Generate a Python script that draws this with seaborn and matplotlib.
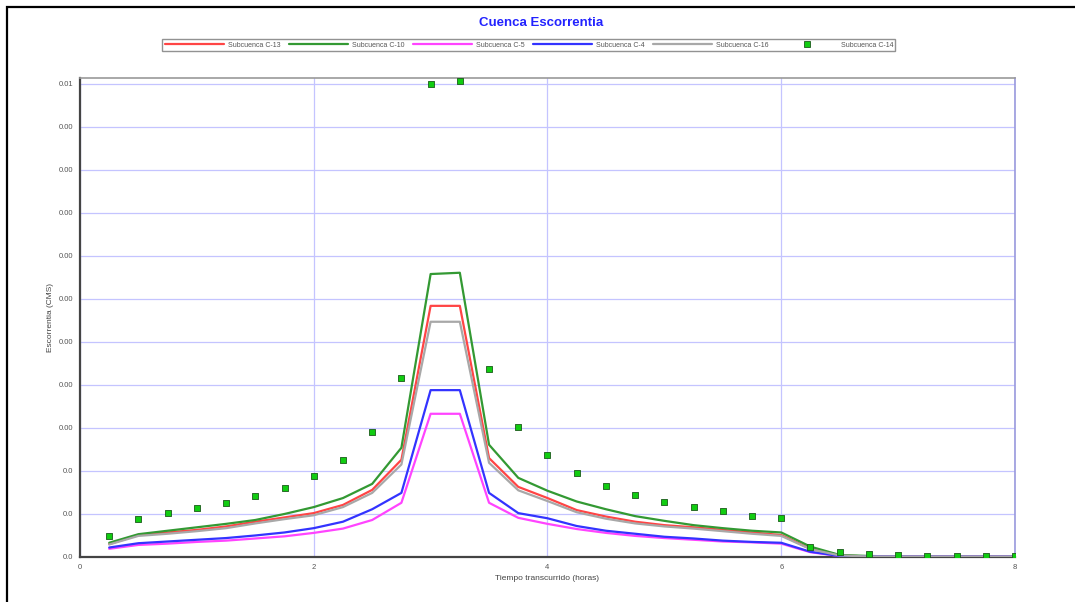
import numpy as np
import pandas as pd
import seaborn as sns
import matplotlib.pyplot as plt
from matplotlib.patches import Rectangle
from matplotlib.lines import Line2D

# tiempo (horas)
horas = [0.25, 0.5, 0.75, 1.0, 1.25, 1.5, 1.75, 2.0, 2.25, 2.5, 2.75, 3.0, 3.25, 3.5, 3.75, 4.0,
         4.25, 4.5, 4.75, 5.0, 5.25, 5.5, 5.75, 6.0, 6.25, 6.5, 6.75, 7.0, 7.25, 7.5, 7.75, 8.0]

c13 = [0.00030, 0.00051, 0.00057, 0.00063, 0.00071, 0.00082, 0.00092, 0.00102, 0.00121, 0.00156,
       0.00226, 0.00584, 0.00584, 0.00230, 0.00163, 0.00137, 0.00109, 0.00094, 0.00082, 0.00074,
       0.00069, 0.00063, 0.00057, 0.00051, 0.00019, 0.000035, 0.000012, 0.000012, 0.000012,
       0.000012, 0.000012, 0.000012]
c10 = [0.00033, 0.00053, 0.00061, 0.00069, 0.00077, 0.00086, 0.00100, 0.00116, 0.00137, 0.00170,
       0.00254, 0.00658, 0.00661, 0.00261, 0.00184, 0.00154, 0.00129, 0.00111, 0.00095, 0.00084,
       0.00074, 0.00067, 0.00061, 0.00057, 0.00024, 0.000047, 0.000023, 0.000012, 0.000012,
       0.000012, 0.000012, 0.000012]
c5 = [0.00019, 0.00028, 0.00031, 0.00035, 0.00038, 0.00043, 0.00048, 0.00056, 0.00066, 0.00086,
      0.00126, 0.00333, 0.00333, 0.00126, 0.00091, 0.00077, 0.00065, 0.00056, 0.00049, 0.00044,
      0.00040, 0.00036, 0.00034, 0.00031, 0.00011, 0.000023, 0.000012, 0.000012, 0.000012,
      0.000012, 0.000012, 0.000012]
c4 = [0.00022, 0.00032, 0.00036, 0.00040, 0.00044, 0.00050, 0.00057, 0.00067, 0.00082, 0.00111,
      0.00149, 0.00388, 0.00388, 0.00149, 0.00102, 0.00090, 0.00072, 0.00061, 0.00054, 0.00047,
      0.00043, 0.00038, 0.00035, 0.00033, 0.00012, 0.000023, 0.000012, 0.000012, 0.000012,
      0.000012, 0.000012, 0.000012]
c16 = [0.00029, 0.00049, 0.00054, 0.00060, 0.00067, 0.00078, 0.00088, 0.00097, 0.00116, 0.00149,
       0.00215, 0.00547, 0.00547, 0.00219, 0.00155, 0.00130, 0.00104, 0.00089, 0.00078, 0.00071,
       0.00066, 0.00060, 0.00054, 0.00049, 0.00018, 0.000035, 0.000012, 0.000012, 0.000012,
       0.000012, 0.000012, 0.000012]
c14 = [0.00049, 0.00088, 0.00102, 0.00113, 0.00126, 0.00141, 0.00161, 0.00188, 0.00226, 0.00290,
       0.00416, 0.01099, 0.01107, 0.00437, 0.00303, 0.00236, 0.00195, 0.00166, 0.00145, 0.00129,
       0.00116, 0.00107, 0.00096, 0.00091, 0.00024, 0.00012, 0.00007, 0.000047, 0.000023,
       0.000023, 0.000023, 0.000023]

y_ticks = [0.0, 0.001, 0.002, 0.003, 0.004, 0.005, 0.006, 0.007, 0.008, 0.009, 0.010, 0.011]
y_labels = ['0.0', '0.0', '0.0', '0.00', '0.00', '0.00', '0.00', '0.00', '0.00', '0.00', '0.00', '0.01']
x_ticks = [0, 2, 4, 6, 8]

lineas = ['Subcuenca C-13', 'Subcuenca C-10', 'Subcuenca C-5', 'Subcuenca C-4', 'Subcuenca C-16']
colores = {'Subcuenca C-13': '#ff4545', 'Subcuenca C-10': '#339933', 'Subcuenca C-5': '#ff44ff',
           'Subcuenca C-4': '#3333ff', 'Subcuenca C-16': '#a8a8a8'}

df = pd.DataFrame({'horas': horas * 5,
                   'cms': c13 + c10 + c5 + c4 + c16,
                   'serie': [s for s in lineas for _ in horas]})
df14 = pd.DataFrame({'horas': horas, 'cms': c14, 'serie': 'Subcuenca C-14'})

sns.set_style('white')
plt.rcParams['font.family'] = ['Liberation Sans', 'DejaVu Sans']

fig = plt.figure(figsize=(10.75, 6.02), dpi=100)
ax = fig.add_axes([0.0744, 0.0748, 0.8698, 0.7957])

sns.lineplot(data=df, x='horas', y='cms', hue='serie', hue_order=lineas, palette=colores,
             linewidth=1.6, ax=ax, legend=False, zorder=3)
sns.scatterplot(data=df14, x='horas', y='cms', color='#11cc11', marker='s', s=16,
                edgecolor='#1a5a1a', linewidth=0.6, ax=ax, legend=False, zorder=4)

ax.set_xlim(0, 8)
ax.set_ylim(0, 0.01114)
ax.set_xticks(x_ticks)
ax.set_xticklabels([str(x) for x in x_ticks])
ax.set_yticks(y_ticks)
ax.set_yticklabels(y_labels)
ax.grid(True, color='#c4c4ff', linewidth=0.9)
ax.tick_params(axis='both', labelsize=5.5, labelcolor='#555555', length=3, width=0.7,
               color='#b0b0e0', pad=2, direction='out')
ax.tick_params(axis='y', color='#888888')

for side in ['left', 'bottom']:
    ax.spines[side].set_color('#444444')
    ax.spines[side].set_linewidth(1.6)
ax.spines['top'].set_color('#999999')
ax.spines['top'].set_linewidth(1.2)
ax.spines['right'].set_color('#9999dd')
ax.spines['right'].set_linewidth(1.2)

ax.set_xlabel('Tiempo transcurrido (horas)', fontsize=6, color='#444444', labelpad=3)
ax.set_ylabel('Escorrentia (CMS)', fontsize=6, color='#444444', labelpad=3)

fig.text(0.503, 0.962, 'Cuenca Escorrentia', ha='center', va='center', fontsize=9.5,
         fontweight='bold', color='#2222ff')

# legend
handles = [Line2D([], [], color=colores[s], linewidth=1.6) for s in lineas]
handles.append(Line2D([], [], color='none', marker='s', markersize=4,
                      markerfacecolor='#11cc11', markeredgecolor='#1a5a1a', markeredgewidth=0.6))
leg = fig.legend(handles, lineas + ['Subcuenca C-14'], loc='center', bbox_to_anchor=(0.492, 0.925),
                 ncol=6, fontsize=5, frameon=True, fancybox=False, shadow=False,
                 handlelength=8.5, handletextpad=0.6, columnspacing=1.2, borderpad=0.35,
                 borderaxespad=0)
leg.get_frame().set_edgecolor('#777777')
leg.get_frame().set_linewidth(1.0)
for t in leg.get_texts():
    t.set_color('#555555')

# outer frame of the screenshot
fig.patches.append(Rectangle((7 / 1075, -0.1), 1.2, 1.1 - 7 / 602, transform=fig.transFigure,
                             fill=False, edgecolor='black', linewidth=1.6))

fig.savefig('out.png', dpi=100)
